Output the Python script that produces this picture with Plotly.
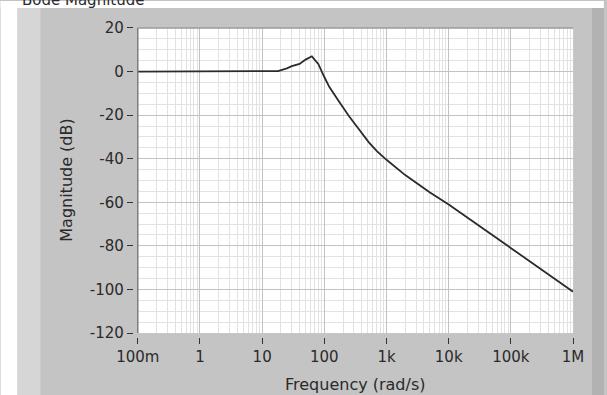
import plotly.graph_objects as go

# ---- data ----
freq = [0.1, 1, 10, 18, 25, 30, 40, 50, 63, 80, 100, 120, 170, 250, 360, 520, 700, 1000,
        2000, 5000, 10000, 100000, 1000000]
mag_db = [0, 0, 0, 0.2, 1.5, 2.5, 3.5, 5.5, 7, 3.5, -2.5, -7, -13.5, -20.5, -26.5, -32.5,
          -36.5, -40.5, -47.5, -55.5, -61, -81, -101]

x_tickvals = [0.1, 1, 10, 100, 1000, 10000, 100000, 1000000]
x_ticktext = ["100m", "1", "10", "100", "1k", "10k", "100k", "1M"]
y_tickvals = [20, 0, -20, -40, -60, -80, -100, -120]
y_ticktext = ["20", "0", "-20", "-40", "-60", "-80", "-100", "-120"]

title_text = "Bode Magnitude"
x_title = "Frequency (rad/s)"
y_title = "Magnitude (dB)"

# ---- layout geometry (pixels) ----
W, H = 607, 395
ML, MR, MT, MB = 100, 20, 20, 40
PW = W - ML - MR
PH = H - MT - MB
plot_l, plot_r, plot_t, plot_b = 138, 576, 27, 333


def px_x(p):
    return (p - ML) / PW


def px_y(p):
    return (H - MB - p) / PH


font = "DejaVu Sans"
txt_col = "#2a2a2a"

fig = go.Figure()
fig.add_trace(go.Scatter(x=freq, y=mag_db, mode="lines",
                         line=dict(color="#2b2b2b", width=1.8),
                         showlegend=False, hoverinfo="skip"))

fig.update_layout(
    width=W, height=H,
    margin=dict(l=ML, r=MR, t=MT, b=MB),
    paper_bgcolor="#c4c4c4",
    plot_bgcolor="#ffffff",
    font=dict(family=font, size=15, color=txt_col),
    xaxis=dict(
        type="log", range=[-1, 6],
        domain=[px_x(plot_l), px_x(plot_r)],
        anchor="free", position=px_y(337),
        tickvals=x_tickvals, ticktext=x_ticktext,
        ticks="outside", ticklen=6, tickwidth=1, tickcolor="#333333",
        showline=False, zeroline=False,
        showgrid=True, gridcolor="#c2c2c2", gridwidth=1,
        minor=dict(dtick="D1", showgrid=True, gridcolor="#e2e2e2", gridwidth=1, ticks=""),
        tickfont=dict(family=font, size=15, color=txt_col),
        fixedrange=True,
    ),
    yaxis=dict(
        range=[-120, 20],
        domain=[px_y(plot_b), px_y(plot_t)],
        anchor="free", position=px_x(133),
        tickvals=y_tickvals, ticktext=y_ticktext,
        ticks="outside", ticklen=6, tickwidth=1, tickcolor="#333333",
        showline=False, zeroline=False,
        showgrid=True, gridcolor="#c2c2c2", gridwidth=1,
        minor=dict(dtick=5, showgrid=True, gridcolor="#e2e2e2", gridwidth=1, ticks=""),
        tickfont=dict(family=font, size=15, color=txt_col),
        fixedrange=True,
    ),
)

shapes = [
    # white surround (top and left)
    dict(type="rect", xref="paper", yref="paper", x0=px_x(0), x1=px_x(W), y0=px_y(7), y1=px_y(0),
         fillcolor="#ffffff", line=dict(width=0), layer="below"),
    dict(type="rect", xref="paper", yref="paper", x0=px_x(0), x1=px_x(17), y0=px_y(H), y1=px_y(0),
         fillcolor="#ffffff", line=dict(width=0), layer="below"),
    # lighter strip on the left of the panel
    dict(type="rect", xref="paper", yref="paper", x0=px_x(17), x1=px_x(40), y0=px_y(H), y1=px_y(7),
         fillcolor="#d6d6d6", line=dict(width=0), layer="below"),
    # darker strip on the right of the panel
    dict(type="rect", xref="paper", yref="paper", x0=px_x(595), x1=px_x(W), y0=px_y(H), y1=px_y(7),
         fillcolor="#b2b2b2", line=dict(width=0), layer="below"),
    # plot frame: dark left/top edges
    dict(type="line", xref="x domain", yref="y domain", x0=0, x1=0, y0=0, y1=1,
         line=dict(color="#7c7c7c", width=1.5)),
    dict(type="line", xref="x domain", yref="y domain", x0=0, x1=1, y0=1, y1=1,
         line=dict(color="#9a9a9a", width=1.5)),
]
fig.update_layout(shapes=shapes)

annotations = [
    dict(text=title_text, xref="paper", yref="paper", x=px_x(20), y=px_y(10),
         xanchor="left", yanchor="bottom", showarrow=False,
         font=dict(family=font, size=15, color=txt_col)),
    dict(text=x_title, xref="paper", yref="paper", x=px_x((plot_l + plot_r) / 2), y=px_y(385),
         xanchor="center", yanchor="middle", showarrow=False,
         font=dict(family=font, size=16, color=txt_col)),
    dict(text=y_title, xref="paper", yref="paper", x=px_x(66), y=px_y((plot_t + plot_b) / 2),
         xanchor="center", yanchor="middle", showarrow=False, textangle=-90,
         font=dict(family=font, size=16, color=txt_col)),
]
fig.update_layout(annotations=annotations)

fig.write_html("out.html", config={"displayModeBar": False})
